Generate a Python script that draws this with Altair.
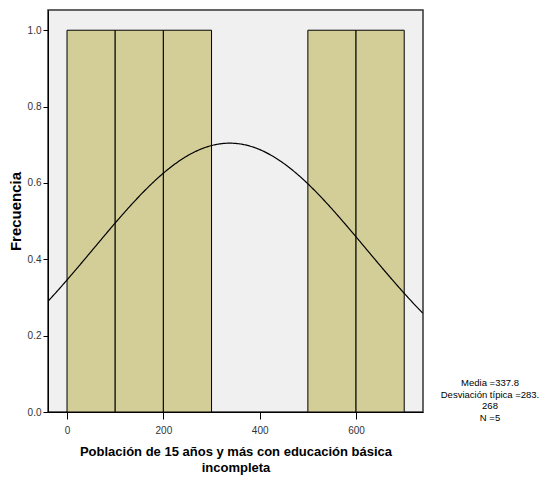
import altair as alt
import pandas as pd

bin_start = [0, 100, 200, 500, 600]
bin_end = [100, 200, 300, 600, 700]
counts = [1, 1, 1, 1, 1]

mean_val = 337.8
sd_val = 283.268
n_val = 5
bin_width = 100

x_ticks = [0, 200, 400, 600]
y_ticks = [0.0, 0.2, 0.4, 0.6, 0.8, 1.0]
stats_lines = ["Media =337.8", "Desviación típica =283.", "268", "N =5"]

FONT = "Liberation Sans, Arial, sans-serif"
W, H = 375, 402
XDOM = [-39.5, 739]
YDOM = [0, 1.053]

bars_df = pd.DataFrame({"start": bin_start, "end": bin_end, "count": counts,
                        "base": [0] * len(counts)})

xscale = alt.Scale(domain=XDOM, nice=False, zero=False)
yscale = alt.Scale(domain=YDOM, nice=False)

bars = alt.Chart(bars_df).mark_rect(
    fill="#D3CE97", stroke="#000000", strokeWidth=1, clip=True
).encode(
    x=alt.X("start:Q", scale=xscale,
            axis=alt.Axis(values=x_ticks, format="d", grid=False,
                          title=["Población de 15 años y más con educación básica", "incompleta"],
                          titleFontSize=13, titleFontWeight="bold", titleFont=FONT,
                          titleColor="#000000", titlePadding=10, titleLineHeight=16,
                          labelFont=FONT, labelFontSize=10, labelColor="#333333",
                          tickSize=7, tickColor="#000000", domainColor="#000000",
                          labelPadding=6)),
    x2="end:Q",
    y=alt.Y("count:Q", scale=yscale,
            axis=alt.Axis(values=y_ticks, format=".1f", grid=False,
                          title="Frecuencia", titleFontSize=15, titleFontWeight="bold",
                          titleFont=FONT, titleColor="#000000", titlePadding=4,
                          labelFont=FONT, labelFontSize=10, labelColor="#333333",
                          tickSize=5, tickColor="#000000", domainColor="#000000",
                          labelPadding=2)),
    y2="base:Q",
)

curve = alt.Chart(alt.sequence(XDOM[0], XDOM[1] + 1, 2, as_="x")).transform_calculate(
    dens=f"{n_val}*{bin_width}*exp(-0.5*pow((datum.x-{mean_val})/{sd_val},2))/({sd_val}*sqrt(2*PI))"
).mark_line(color="#000000", strokeWidth=1.2, clip=True).encode(
    x=alt.X("x:Q", scale=xscale),
    y=alt.Y("dens:Q", scale=yscale),
)

stats = alt.Chart(pd.DataFrame({"a": [0]})).mark_text(
    text=stats_lines, font=FONT, fontSize=9.5, color="#000000",
    align="center", baseline="middle", lineHeight=11.7
).encode(x=alt.value(442), y=alt.value(373))

chart = alt.layer(bars, curve, stats).properties(
    width=W, height=H,
    background="#FFFFFF",
    autosize=alt.AutoSizeParams(type="none"),
    padding={"left": 40, "top": 2, "right": 117, "bottom": 66},
).configure_view(
    fill="#F0F0F0", stroke="#333333", strokeWidth=1.5
)

chart.save("out.html", embed_options={"renderer": "svg", "actions": False})
